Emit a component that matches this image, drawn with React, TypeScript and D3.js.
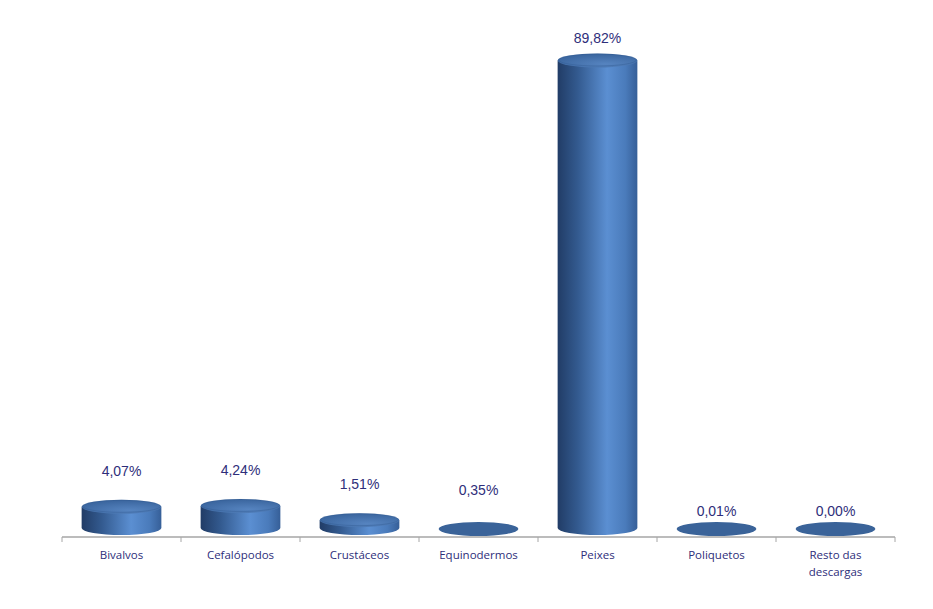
import React from "react";
import * as d3 from "d3";

const categories = ["Bivalvos", "Cefalópodos", "Crustáceos", "Equinodermos", "Peixes", "Poliquetos", "Resto das descargas"];
const values = [4.07, 4.24, 1.51, 0.35, 89.82, 0.01, 0.0];
const valueLabels = ["4,07%", "4,24%", "1,51%", "0,35%", "89,82%", "0,01%", "0,00%"];

const W = 933;
const H = 609;

export default function App() {
  const x = d3.scaleBand<string>().domain(categories).range([62, 895]).paddingInner(0).paddingOuter(0);
  const y = d3.scaleLinear().domain([0, 89.82]).range([528, 60.5]);
  const labelY = d3.scaleLinear().domain([0, 90]).range([492, 37]);
  const bw = x.bandwidth() * 0.67;
  const rx = bw / 2;
  const ry = 7;
  const axisY = 537;
  const ticks = [...categories.map((c) => x(c)!), 895];

  return (
    <div style={{ position: "absolute", left: 0, top: 0, width: W, height: H, background: "#fff" }}>
      <svg width={W} height={H} style={{ display: "block" }}>
        <defs>
          <linearGradient id="side" x1="0" x2="1" y1="0" y2="0">
            <stop offset="0" stopColor="#213c66" />
            <stop offset="0.25" stopColor="#335a8f" />
            <stop offset="0.62" stopColor="#5b8fd2" />
            <stop offset="0.85" stopColor="#4a7bbb" />
            <stop offset="1" stopColor="#365f98" />
          </linearGradient>
          <radialGradient id="top" cx="0.6" cy="0.75" r="0.7">
            <stop offset="0" stopColor="#5684c0" />
            <stop offset="1" stopColor="#3b669f" />
          </radialGradient>
        </defs>
        <line x1={62} x2={895} y1={axisY} y2={axisY} stroke="#a6a6a6" strokeWidth={1.3} />
        {ticks.map((t, i) => (
          <line key={i} x1={t} x2={t} y1={axisY} y2={axisY + 5} stroke="#a6a6a6" strokeWidth={1} />
        ))}
        {categories.map((c, i) => {
          const cx = x(c)! + x.bandwidth() / 2;
          const v = values[i];
          const yb = y(0);
          const yt = y(v);
          const h = yb - yt;
          const flat = h < 3;
          const ly = h < 1 ? axisY - 26 : labelY(v);
          return (
            <g key={c}>
              {flat ? (
                <ellipse cx={cx} cy={yb + 1} rx={rx} ry={ry} fill="#3a6399" />
              ) : (
                <>
                  <path
                    d={`M${cx - rx},${yt} L${cx - rx},${yb} A${rx},${ry} 0 0 0 ${cx + rx},${yb} L${cx + rx},${yt} Z`}
                    fill="url(#side)"
                  />
                  <ellipse cx={cx} cy={yt} rx={rx} ry={ry} fill="url(#top)" />
                  <ellipse cx={cx} cy={yt - 0.5} rx={rx - 1} ry={ry - 1} fill="none" stroke="#2f578c" strokeOpacity={0.35} strokeWidth={1} />
                </>
              )}
              <text
                x={cx}
                y={ly}
                dy="0.35em"
                textAnchor="middle"
                fontFamily="'Liberation Sans', Arial, sans-serif"
                fontSize={14}
                fill="#2e2e7a"
              >
                {valueLabels[i]}
              </text>
            </g>
          );
        })}
        {categories.map((c) => {
          const cx = x(c)! + x.bandwidth() / 2;
          const words = c === "Resto das descargas" ? ["Resto das", "descargas"] : [c];
          return (
            <text
              key={"l" + c}
              x={cx}
              y={555}
              textAnchor="middle"
              fontFamily="'Open Sans', 'Liberation Sans', sans-serif"
              fontSize={11.5}
              fill="#2e2e7a"
            >
              {words.map((w, j) => (
                <tspan key={j} x={cx} dy={j === 0 ? "0.35em" : 17}>
                  {w}
                </tspan>
              ))}
            </text>
          );
        })}
      </svg>
    </div>
  );
}
